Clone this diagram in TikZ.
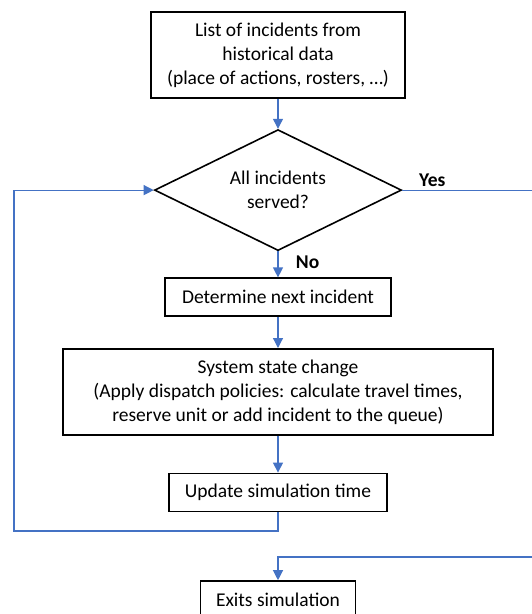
\documentclass[tikz,border=0pt]{standalone}
\usepackage{fontspec}
\setmainfont{Carlito}
\usetikzlibrary{shapes.geometric,arrows.meta,positioning}
\definecolor{flowblue}{RGB}{68,114,196}

\begin{document}
\begin{tikzpicture}[x=1pt,y=1pt,node distance=30pt,
  every node/.style={font=\fontsize{19.5}{24}\selectfont},
  stepbox/.style={draw,line width=1.6pt,minimum height=38pt,align=center,inner sep=2pt},
  decision/.style={draw,diamond,line width=1.6pt,aspect=2.04,minimum width=247pt,minimum height=121pt,inner sep=0pt,align=center},
  lbl/.style={font=\fontsize{19.5}{24}\selectfont\bfseries},
  arr/.style={draw=flowblue,line width=1.2pt,-{Triangle[length=10pt,width=10pt]}},
  ln/.style={draw=flowblue,line width=1.2pt}]
\useasboundingbox (0,0) rectangle (532,-614);
\clip (0,0) rectangle (532,-614);
\node[stepbox,minimum width=254pt,minimum height=86pt] (list) at (278,-55) {List of incidents from\\historical data\\(place of actions, rosters, \dots)};
\node[decision,below=30pt of list] (served) {All incidents\\served?};
\node[stepbox,minimum width=226pt,below=26pt of served] (next) {Determine next incident};
\node[stepbox,minimum width=430pt,minimum height=86pt,below=31pt of next] (state) {System state change\\(Apply dispatch policies: calculate travel times,\\reserve unit or add incident to the queue)};
\node[stepbox,minimum width=218pt,below=37pt of state] (update) {Update simulation time};
\node[stepbox,minimum width=155pt,below=68pt of update] (exits) {Exits simulation};
\coordinate (loopcorner) at (14,-531);
\coordinate[right=150pt of served.east] (yesend);
\coordinate (exitstart) at (545,-557);
% main flow
\draw[arr] (list) -- (served);
\draw[arr] (served) -- node[lbl,right=14pt,pos=0.4] {No} (next);
\draw[arr] (next) -- (state);
\draw[arr] (state) -- (update);
% loop back and exit
\draw[arr] (update.south) |- (loopcorner) |- (served.west);
\draw[ln] (served.east) -- node[lbl,above,pos=0.2] {Yes} (yesend);
\draw[arr] (exitstart) -| (exits.north);
\end{tikzpicture}
\end{document}
